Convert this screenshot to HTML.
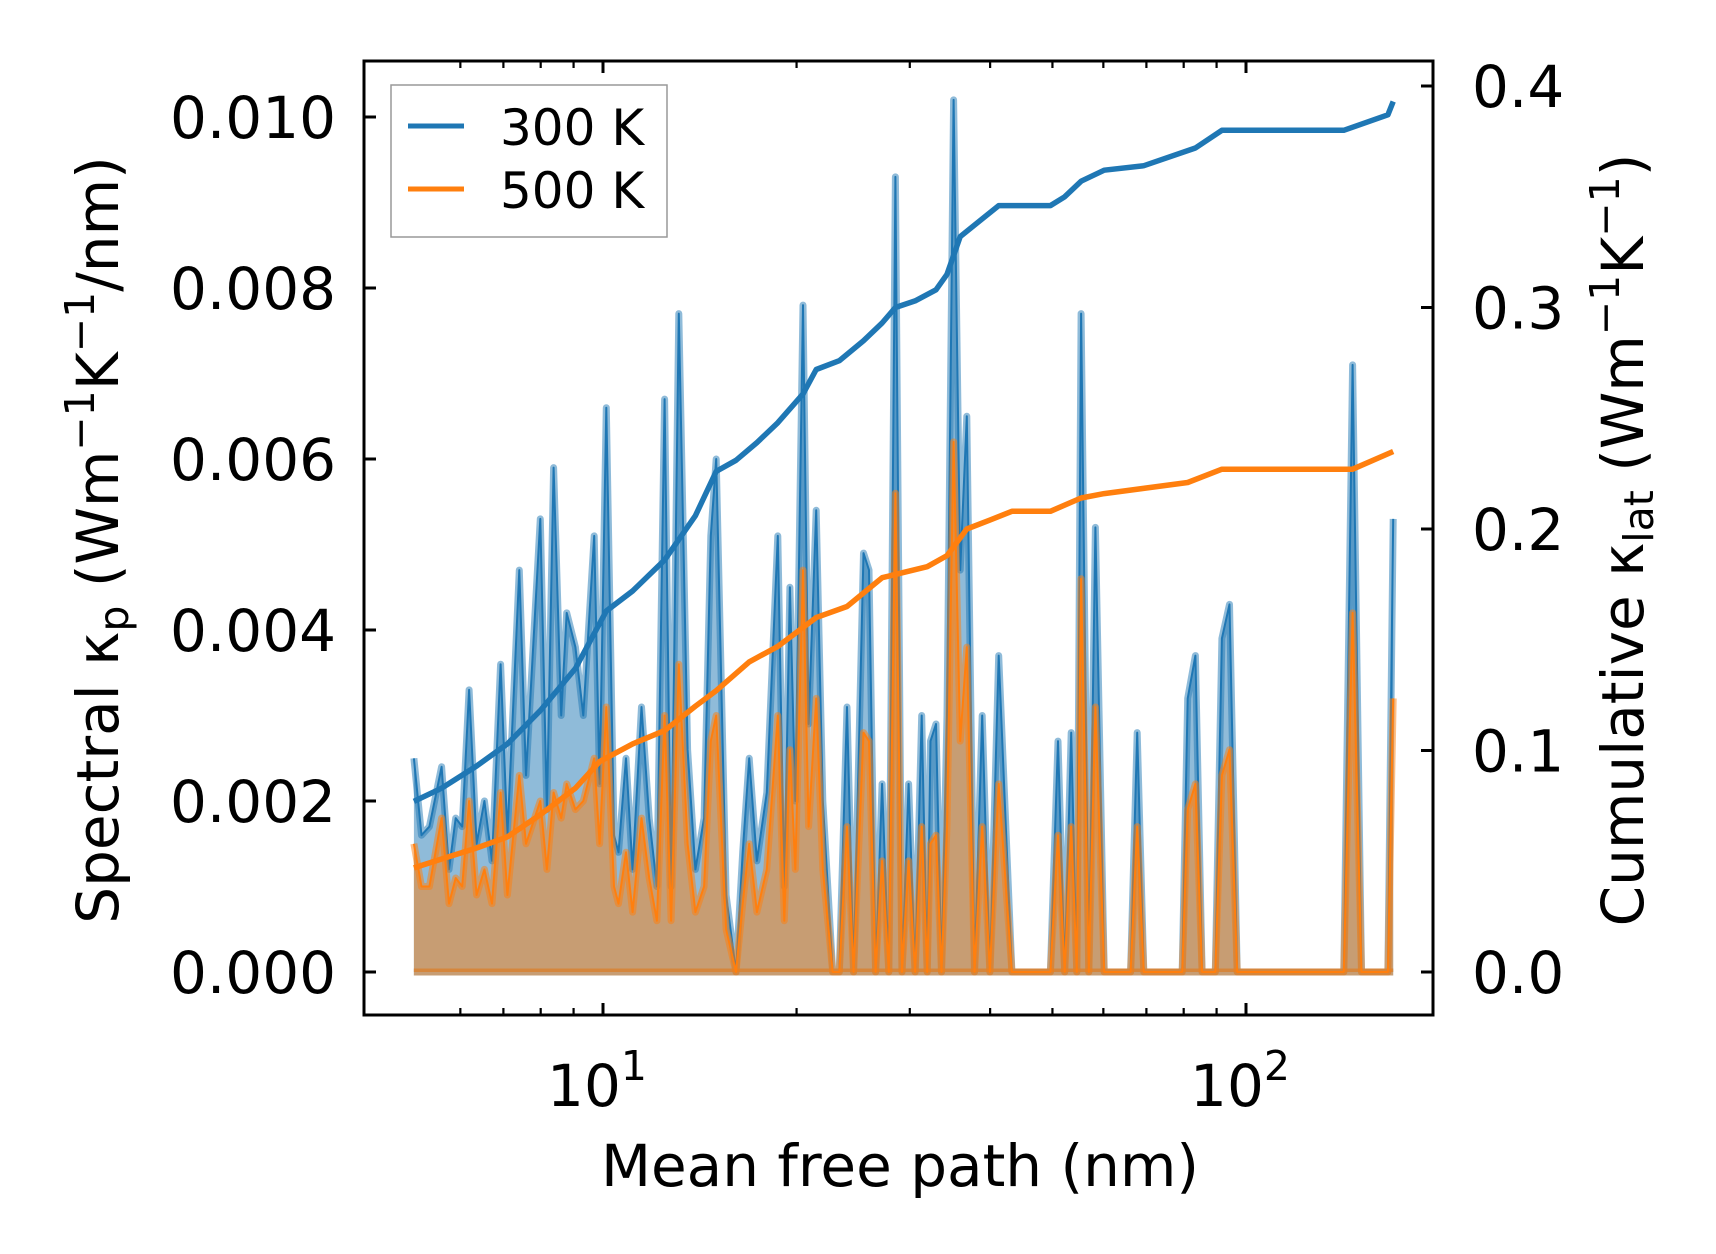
<!DOCTYPE html>
<html><head><meta charset="utf-8"><style>
html,body{margin:0;padding:0;background:#fff;}
svg{display:block;font-family:"DejaVu Sans","Liberation Sans",sans-serif;}
</style></head><body>
<svg id="chart" width="1716" height="1254" viewBox="0 0 1716 1254" xmlns="http://www.w3.org/2000/svg">
<rect x="0" y="0" width="1716" height="1254" fill="#fff"/>
<g id="plot"></g>
<g id="axes"></g>
</svg>
<script>
const mfp = [5.08,5.22,5.37,5.61,5.76,5.90,6.04,6.19,6.36,6.54,6.72,6.93,7.10,7.41,7.59,7.99,8.18,8.38,8.61,8.78,9.06,9.32,9.69,9.88,10.12,10.40,10.57,10.86,11.12,11.48,11.80,12.13,12.47,12.76,13.12,13.54,13.92,14.36,14.71,15.00,15.54,16.10,16.49,16.88,17.35,17.98,18.70,19.14,19.53,19.91,20.47,20.88,21.46,21.97,22.76,23.31,23.96,24.53,25.42,25.92,26.54,27.17,27.83,28.49,29.17,29.87,30.58,31.31,31.93,32.31,32.95,33.61,34.28,35.10,35.94,36.80,37.82,38.88,39.97,41.25,43.24,49.63,51.01,52.24,53.48,54.55,55.41,56.96,58.32,60.18,66.15,67.74,69.35,79.58,81.17,83.44,85.45,89.58,91.72,94.27,96.91,141.95,146.5,151.2,166.2,169.4];
const spec300 = [0.0025,0.0016,0.0017,0.0024,0.0012,0.0018,0.0017,0.0033,0.0015,0.0020,0.0013,0.0036,0.0016,0.0047,0.0023,0.0053,0.0019,0.0059,0.0030,0.0042,0.0038,0.0030,0.0051,0.0022,0.0066,0.0016,0.0014,0.0025,0.0012,0.0031,0.0018,0.0010,0.0067,0.0010,0.0077,0.0026,0.0012,0.0018,0.0051,0.0060,0.0009,0.0000,0.0014,0.0025,0.0013,0.0021,0.0051,0.0010,0.0045,0.0020,0.0078,0.0029,0.0054,0.0020,0,0,0.0031,0,0.0049,0.0047,0,0.0022,0,0.0093,0,0.0022,0,0.0030,0,0.0027,0.0029,0,0.0030,0.0102,0.0047,0.0065,0,0.0030,0,0.0037,0,0,0.0027,0,0.0028,0,0.0077,0,0.0052,0,0,0.0028,0,0,0.0032,0.0037,0,0,0.0039,0.0043,0,0,0.0071,0,0,0.0053];
const spec500 = [0.0015,0.0010,0.0010,0.0018,0.0008,0.0011,0.0010,0.0020,0.0009,0.0012,0.0008,0.0021,0.0009,0.0023,0.0015,0.0020,0.0012,0.0021,0.0018,0.0022,0.0019,0.0020,0.0025,0.0015,0.0031,0.0010,0.0008,0.0014,0.0007,0.0018,0.0011,0.0006,0.0030,0.0006,0.0036,0.0015,0.0007,0.0010,0.0027,0.0030,0.0005,0,0.0008,0.0015,0.0007,0.0012,0.0030,0.0006,0.0026,0.0012,0.0047,0.0017,0.0032,0.0012,0,0,0.0017,0,0.0028,0.0027,0,0.0013,0,0.0056,0,0.0013,0,0.0017,0,0.0015,0.0016,0,0.0017,0.0062,0.0027,0.0038,0,0.0017,0,0.0022,0,0,0.0016,0,0.0017,0,0.0046,0,0.0031,0,0,0.0017,0,0,0.0019,0.0022,0,0,0.0023,0.0026,0,0,0.0042,0,0,0.0032];
const cumMfp300 = [5.08,5.61,6.36,7.10,7.99,9.06,10.12,11.12,12.47,13.92,15.00,16.10,17.35,18.70,20.47,21.46,23.31,25.42,27.17,28.49,30.58,32.95,34.28,35.94,38.88,41.25,49.63,52.24,55.41,60.18,69.35,83.44,91.72,141.95,166.2,169.4];
const cum300 = [0.077,0.083,0.093,0.103,0.118,0.137,0.163,0.172,0.186,0.206,0.226,0.231,0.239,0.248,0.261,0.272,0.276,0.285,0.293,0.300,0.303,0.308,0.315,0.332,0.340,0.346,0.346,0.350,0.357,0.362,0.364,0.372,0.380,0.380,0.387,0.393];
const cumMfp500 = [5.08,5.61,6.36,7.10,7.99,9.06,9.88,11.12,12.47,13.92,15.00,16.88,18.70,21.46,23.96,27.17,31.93,34.28,36.80,39.97,43.24,49.63,55.41,60.18,81.17,91.72,146.5,169.4];
const cum500 = [0.047,0.051,0.056,0.061,0.071,0.083,0.095,0.103,0.109,0.120,0.127,0.140,0.147,0.160,0.165,0.178,0.183,0.188,0.200,0.204,0.208,0.208,0.214,0.216,0.221,0.227,0.227,0.235];
const leftTicks = [0,0.002,0.004,0.006,0.008,0.010];
const leftTickLabels = ["0.000","0.002","0.004","0.006","0.008","0.010"];
const rightTicks = [0,0.1,0.2,0.3,0.4];
const rightTickLabels = ["0.0","0.1","0.2","0.3","0.4"];
const xMajor = [10,100];
const xMinor = [6,7,8,9,20,30,40,50,60,70,80,90];

const X0=364,X1=1433,Y0=61,Y1=1015;
const xs = m => 603 + (Math.log10(m)-1)*643;
const yl = v => 972 - v/0.002*171;
const yr = c => 972 - c/0.1*221.5;
const NS="http://www.w3.org/2000/svg";
const plot=document.getElementById('plot'), axes=document.getElementById('axes');
function mk(tag, attrs, parent){const e=document.createElementNS(NS,tag);for(const k in attrs)e.setAttribute(k,attrs[k]);parent.appendChild(e);return e;}

function spectral(vals, color, name){
  let pts = mfp.map((m,i)=>xs(m).toFixed(1)+','+yl(vals[i]).toFixed(1));
  let d = 'M'+xs(mfp[0]).toFixed(1)+','+yl(0)+' L'+pts.join(' L')+' L'+xs(mfp[mfp.length-1]).toFixed(1)+','+yl(0)+'Z';
  const f=mk('path',{d:d,fill:color,'fill-opacity':0.5,stroke:'none'},plot);
  
  
  const l1=mk('path',{d:'M'+pts.join(' L'),fill:'none',stroke:color,'stroke-opacity':0.5,'stroke-width':7,'stroke-linejoin':'round'},plot);
  
  
  const l2=mk('path',{d:'M'+pts.join(' L'),fill:'none',stroke:color,'stroke-width':2,'stroke-linejoin':'round'},plot);
  
  
  const b=mk('line',{x1:xs(mfp[0]),x2:xs(mfp[mfp.length-1]),y1:yl(0),y2:yl(0),stroke:color,'stroke-opacity':0.5,'stroke-width':7},plot);
  
  
}
spectral(spec300,'#1f77b4','spectral-300k');
spectral(spec500,'#ff7f0e','spectral-500k');
function cum(ms, vals, color, name){
  const d='M'+ms.map((m,i)=>xs(m).toFixed(1)+','+yr(vals[i]).toFixed(1)).join(' L');
  const p=mk('path',{d:d,fill:'none',stroke:color,'stroke-width':5.5,'stroke-linejoin':'round'},plot);
  
  
}
cum(cumMfp300,cum300,'#1f77b4','cumulative-300k');
cum(cumMfp500,cum500,'#ff7f0e','cumulative-500k');

const fr=mk('rect',{x:X0,y:Y0,width:X1-X0,height:Y1-Y0,fill:'none',stroke:'#000','stroke-width':3},axes);


leftTicks.forEach((v,i)=>{
  const y=yl(v);
  const t=mk('line',{x1:X0,x2:X0+12,y1:y,y2:y,stroke:'#000','stroke-width':3},axes);
  
  
  const tx=mk('text',{x:336,y:y+21,'text-anchor':'end','font-size':58},axes);
  tx.textContent=leftTickLabels[i];
  
  
});
rightTicks.forEach((v,i)=>{
  const y=yr(v);
  const t=mk('line',{x1:X1-12,x2:X1,y1:y,y2:y,stroke:'#000','stroke-width':3},axes);
  
  
  const tx=mk('text',{x:1472,y:y+21,'font-size':58},axes);
  tx.textContent=rightTickLabels[i];
  
  
});
xMajor.forEach((m,i)=>{
  const x=xs(m);
  [[Y1,Y1-12],[Y0,Y0+12]].forEach(p=>{
    const t=mk('line',{x1:x,x2:x,y1:p[0],y2:p[1],stroke:'#000','stroke-width':3},axes);
    
    
  });
  const tx=mk('text',{x:x-6,y:1106,'text-anchor':'middle','font-size':58},axes);
  tx.innerHTML='10<tspan dy="-26" font-size="41">'+(i+1)+'</tspan>';
  
  
});
xMinor.forEach(m=>{
  const x=xs(m);
  [[Y1,Y1-7],[Y0,Y0+7]].forEach(p=>{
    const t=mk('line',{x1:x,x2:x,y1:p[0],y2:p[1],stroke:'#000','stroke-width':2.2},axes);
    
    
  });
});
</script>
<svg style="position:absolute;left:0;top:0" width="1716" height="1254" viewBox="0 0 1716 1254" xmlns="http://www.w3.org/2000/svg" font-family="DejaVu Sans, Liberation Sans, sans-serif">
<text x="900" y="1186" text-anchor="middle" font-size="58">Mean free path (nm)</text>
<text transform="translate(118,540) rotate(-90)" text-anchor="middle" font-size="58">Spectral κ<tspan font-size="41" dy="10">p</tspan><tspan dy="-10"> (Wm</tspan><tspan font-size="41" dy="-24">−1</tspan><tspan dy="24">K</tspan><tspan font-size="41" dy="-24">−1</tspan><tspan dy="24">/nm)</tspan></text>
<text transform="translate(1643,540) rotate(-90)" text-anchor="middle" font-size="58">Cumulative κ<tspan font-size="41" dy="10">lat</tspan><tspan dy="-10"> (Wm</tspan><tspan font-size="41" dy="-24">−1</tspan><tspan dy="24">K</tspan><tspan font-size="41" dy="-24">−1</tspan><tspan dy="24">)</tspan></text>
<g>
<rect x="391" y="85" width="276" height="152" fill="#fff" fill-opacity="0.8" stroke="#999" stroke-width="1.5"/>
<line x1="408" y1="126" x2="464" y2="126" stroke="#1f77b4" stroke-width="5"/>
<text x="500" y="145" font-size="50">300 K</text>
<line x1="408" y1="189" x2="464" y2="189" stroke="#ff7f0e" stroke-width="5"/>
<text x="500" y="208" font-size="50">500 K</text>
</g>
</svg>
</body></html>
